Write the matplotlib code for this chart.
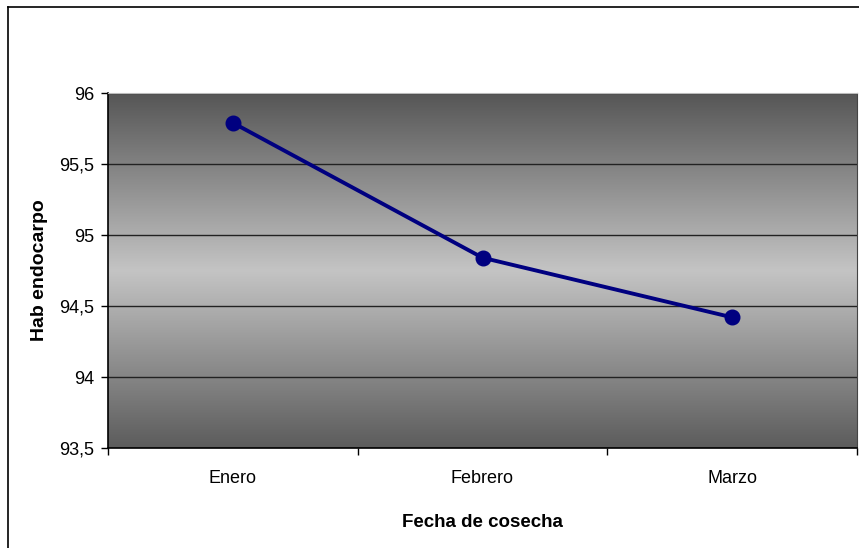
import numpy as np
import matplotlib
matplotlib.use("Agg")
import matplotlib.pyplot as plt
from matplotlib.lines import Line2D
from matplotlib.colors import LinearSegmentedColormap

months = ["Enero", "Febrero", "Marzo"]
hab_endocarpo = [95.79, 94.84, 94.42]
y_ticks = [93.5, 94.0, 94.5, 95.0, 95.5, 96.0]
y_tick_labels = ["93,5", "94", "94,5", "95", "95,5", "96"]

plt.rcParams["font.family"] = ["Liberation Sans", "DejaVu Sans"]

fig = plt.figure(figsize=(8.59, 5.48), dpi=100)
W, H = 859, 548

# chart-area border (top and left edges)
fig.add_artist(Line2D([8 / W, 1.0], [1 - 7 / H, 1 - 7 / H], color="black", lw=1.2))
fig.add_artist(Line2D([8 / W, 8 / W], [0.0, 1 - 7 / H], color="black", lw=1.2))

ax = fig.add_axes([108 / W, 1 - 448 / H, (857 - 108) / W, (448 - 93) / H])

# vertical grey gradient: dark at top and bottom, light in the middle
cmap = LinearSegmentedColormap.from_list(
    "band", [(0.0, "#565656"), (0.5, "#c4c4c4"), (1.0, "#5c5c5c")]
)
grad = np.linspace(0, 1, 256).reshape(-1, 1)
ax.imshow(grad, extent=[0, 1, 0, 1], transform=ax.transAxes, aspect="auto",
          cmap=cmap, zorder=0, interpolation="bilinear")

x = np.arange(len(months))
ax.plot(x, hab_endocarpo, color="#000080", lw=2.8, marker="o", ms=10.5, zorder=3)

ax.set_xlim(-0.5, len(months) - 0.5)
ax.set_ylim(y_ticks[0], y_ticks[-1])

ax.set_yticks(y_ticks)
ax.set_yticklabels(y_tick_labels, fontsize=13)
ax.yaxis.grid(True, color="#222222", lw=1.0, zorder=1)

ax.set_xticks(x)
ax.set_xticklabels(months, fontsize=13)
ax.set_xticks(np.arange(-0.5, len(months), 1.0), minor=True)
ax.tick_params(axis="x", which="major", length=0, pad=16)
ax.tick_params(axis="x", which="minor", length=5, width=1, direction="out")
ax.tick_params(axis="y", length=5, width=1, direction="out", pad=5)

for side in ["left", "bottom"]:
    ax.spines[side].set_color("black")
    ax.spines[side].set_linewidth(1.2)
ax.spines["top"].set_color("#bbbbbb")
ax.spines["right"].set_color("#444444")

ax.set_ylabel("Hab endocarpo", fontsize=14, fontweight="bold")
ax.yaxis.set_label_coords(-0.080, 0.5)
ax.set_xlabel("Fecha de cosecha", fontsize=13.5, fontweight="bold")
ax.xaxis.set_label_coords(0.5, -0.187)

fig.savefig("out.png", dpi=100)
